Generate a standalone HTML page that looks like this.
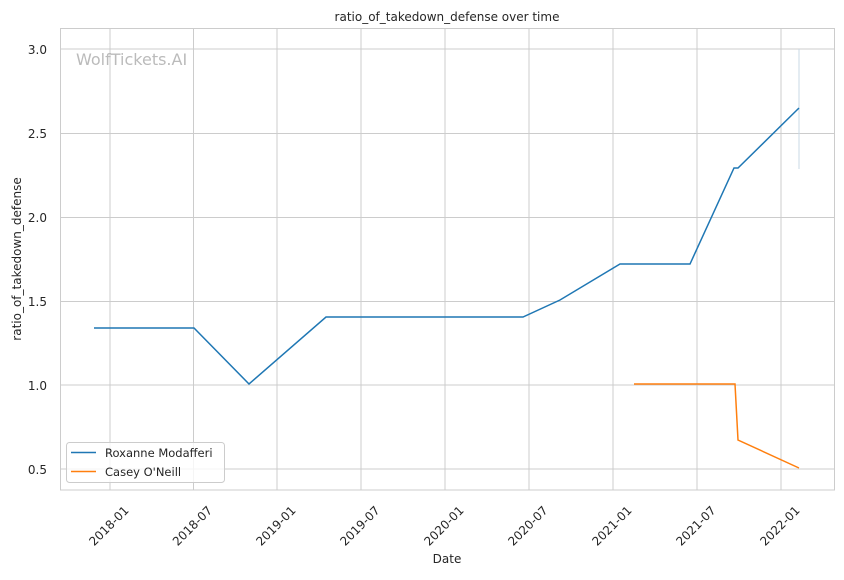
<!DOCTYPE html>
<html><head><style>body{margin:0;background:#fff}</style></head><body>
<svg width="844" height="575" xmlns="http://www.w3.org/2000/svg" font-family="DejaVu Sans, Liberation Sans, sans-serif">
<rect width="844" height="575" fill="#fff"/>
<g stroke="#cccccc" stroke-width="1">
<line x1="60" x2="835" y1="49" y2="49"/><line x1="60" x2="835" y1="133.5" y2="133.5"/><line x1="60" x2="835" y1="217.5" y2="217.5"/><line x1="60" x2="835" y1="301.5" y2="301.5"/><line x1="60" x2="835" y1="385" y2="385"/><line x1="60" x2="835" y1="469" y2="469"/>
<line x1="110" x2="110" y1="28" y2="490"/><line x1="193.5" x2="193.5" y1="28" y2="490"/><line x1="277" x2="277" y1="28" y2="490"/><line x1="361" x2="361" y1="28" y2="490"/><line x1="445" x2="445" y1="28" y2="490"/><line x1="529" x2="529" y1="28" y2="490"/><line x1="613" x2="613" y1="28" y2="490"/><line x1="697" x2="697" y1="28" y2="490"/><line x1="781" x2="781" y1="28" y2="490"/>
</g>
<rect x="60.5" y="28.5" width="774" height="461.5" fill="none" stroke="#cccccc"/>
<text x="76" y="65" font-size="16" fill="#bbbbbb">WolfTickets.AI</text>
<line x1="799" x2="799" y1="49" y2="169" stroke="#c9d9e6" stroke-width="1"/>
<polyline fill="none" stroke="#1f77b4" stroke-width="1.5" points="94,328 194,328 249,384 326,317 523,317 560,300 620,264 690,264 734,168 738,168 799,108"/>
<polyline fill="none" stroke="#ff7f0e" stroke-width="1.5" points="634,384 735,384 738,440 799,468"/>
<g font-size="12" fill="#262626" text-anchor="end">
<text x="47" y="54">3.0</text><text x="47" y="138">2.5</text><text x="47" y="222">2.0</text><text x="47" y="306">1.5</text><text x="47" y="390">1.0</text><text x="47" y="474">0.5</text>
</g>
<g font-size="12" fill="#262626" text-anchor="middle" dominant-baseline="central">
<text transform="translate(109,526) rotate(-45)">2018-01</text>
<text transform="translate(192.5,526) rotate(-45)">2018-07</text>
<text transform="translate(276,526) rotate(-45)">2019-01</text>
<text transform="translate(360,526) rotate(-45)">2019-07</text>
<text transform="translate(444,526) rotate(-45)">2020-01</text>
<text transform="translate(528,526) rotate(-45)">2020-07</text>
<text transform="translate(612,526) rotate(-45)">2021-01</text>
<text transform="translate(696,526) rotate(-45)">2021-07</text>
<text transform="translate(780,526) rotate(-45)">2022-01</text>
</g>
<text x="447" y="563" font-size="12" fill="#262626" text-anchor="middle">Date</text>
<text transform="translate(21,259) rotate(-90)" font-size="12" fill="#262626" text-anchor="middle">ratio_of_takedown_defense</text>
<text x="447" y="21" font-size="12" fill="#262626" text-anchor="middle">ratio_of_takedown_defense over time</text>
<rect x="66.5" y="442.5" width="158" height="40" rx="3" fill="#fff" fill-opacity="0.8" stroke="#cccccc"/>
<line x1="71" x2="96" y1="452.5" y2="452.5" stroke="#1f77b4" stroke-width="1.5"/>
<line x1="71" x2="96" y1="471.5" y2="471.5" stroke="#ff7f0e" stroke-width="1.5"/>
<text x="105" y="457" font-size="11.5" fill="#262626">Roxanne Modafferi</text>
<text x="105" y="476" font-size="11.5" fill="#262626">Casey O'Neill</text>
</svg>
</body></html>
